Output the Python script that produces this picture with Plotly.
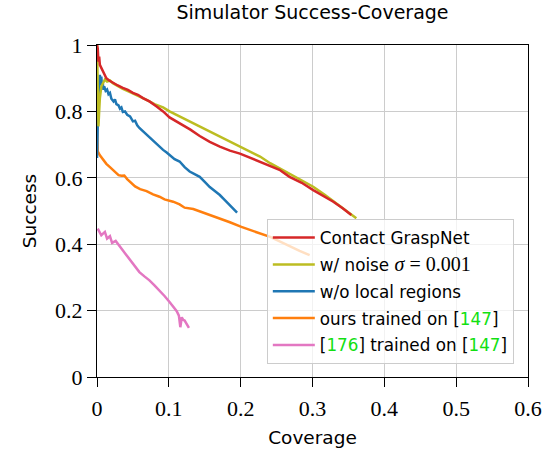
import plotly.graph_objects as go

# Success vs. coverage curves
red_x = [0, 0.001, 0.002, 0.003, 0.004, 0.006, 0.008, 0.010, 0.013, 0.017, 0.022, 0.029, 0.036,
         0.043, 0.050, 0.057, 0.064, 0.073, 0.083, 0.092, 0.101, 0.115, 0.130, 0.143, 0.157, 0.171,
         0.185, 0.199, 0.213, 0.227, 0.241, 0.254, 0.268, 0.285, 0.301, 0.315, 0.329, 0.342, 0.354]
red_y = [1.0, 0.99, 0.95, 0.965, 0.94, 0.93, 0.92, 0.915, 0.90, 0.893, 0.886, 0.878, 0.871,
         0.865, 0.856, 0.850, 0.840, 0.830, 0.815, 0.800, 0.782, 0.765, 0.745, 0.726, 0.708, 0.694,
         0.682, 0.673, 0.660, 0.649, 0.634, 0.624, 0.603, 0.585, 0.563, 0.546, 0.528, 0.508, 0.488]

olive_x = [0, 0.0005, 0.001, 0.0015, 0.002, 0.003, 0.004, 0.006, 0.008, 0.011, 0.014, 0.018, 0.022,
           0.029, 0.036, 0.046, 0.057, 0.069, 0.080, 0.092, 0.101, 0.115, 0.129, 0.143, 0.157, 0.171,
           0.185, 0.199, 0.213, 0.227, 0.241, 0.254, 0.268, 0.285, 0.301, 0.317, 0.333, 0.347, 0.361]
olive_y = [1.0, 0.93, 0.84, 0.76, 0.755, 0.80, 0.84, 0.875, 0.885, 0.896, 0.89, 0.893, 0.885,
           0.876, 0.868, 0.858, 0.848, 0.835, 0.822, 0.812, 0.800, 0.785, 0.770, 0.755, 0.740, 0.724,
           0.709, 0.694, 0.679, 0.664, 0.644, 0.629, 0.613, 0.594, 0.573, 0.549, 0.523, 0.500, 0.478]

blue_x = [0, 0.0005, 0.001, 0.002, 0.003, 0.004, 0.005, 0.006, 0.007, 0.008, 0.009, 0.010, 0.012,
          0.014, 0.016, 0.018, 0.020, 0.023, 0.025, 0.027, 0.030, 0.032, 0.034, 0.036, 0.039, 0.042,
          0.046, 0.050, 0.053, 0.056, 0.059, 0.064, 0.069, 0.073, 0.078, 0.083, 0.087, 0.092, 0.097,
          0.101, 0.108, 0.115, 0.122, 0.129, 0.136, 0.143, 0.150, 0.157, 0.164, 0.171, 0.178, 0.185,
          0.190, 0.195]
blue_y = [0.66, 0.72, 0.79, 0.85, 0.88, 0.91, 0.88, 0.905, 0.87, 0.886, 0.865, 0.875, 0.862,
          0.866, 0.852, 0.856, 0.838, 0.830, 0.836, 0.822, 0.818, 0.808, 0.812, 0.798, 0.800, 0.790,
          0.785, 0.770, 0.772, 0.758, 0.750, 0.740, 0.729, 0.719, 0.712, 0.700, 0.694, 0.684, 0.676,
          0.669, 0.656, 0.649, 0.632, 0.619, 0.611, 0.603, 0.588, 0.572, 0.560, 0.548, 0.533, 0.518,
          0.506, 0.495]

orange_x = [0, 0.001, 0.004, 0.008, 0.013, 0.018, 0.022, 0.027, 0.030, 0.034, 0.038, 0.042, 0.046,
            0.053, 0.060, 0.069, 0.078, 0.087, 0.094, 0.106, 0.115, 0.122, 0.134, 0.148, 0.162,
            0.171, 0.185, 0.201, 0.215, 0.227, 0.241, 0.255, 0.268, 0.282, 0.296]
orange_y = [0.76, 0.68, 0.668, 0.655, 0.642, 0.632, 0.624, 0.614, 0.608, 0.606, 0.607, 0.596, 0.587,
            0.574, 0.566, 0.560, 0.550, 0.543, 0.535, 0.528, 0.520, 0.510, 0.506, 0.495, 0.483,
            0.478, 0.466, 0.452, 0.442, 0.432, 0.422, 0.408, 0.394, 0.380, 0.367]

pink_x = [0.001, 0.006, 0.011, 0.014, 0.018, 0.021, 0.026, 0.030, 0.034, 0.040, 0.046, 0.053,
          0.059, 0.066, 0.073, 0.080, 0.087, 0.094, 0.101, 0.106, 0.111, 0.114, 0.116, 0.118,
          0.120, 0.122, 0.125, 0.128]
pink_y = [0.447, 0.427, 0.437, 0.417, 0.424, 0.404, 0.410, 0.400, 0.387, 0.370, 0.352, 0.334,
          0.316, 0.303, 0.291, 0.276, 0.261, 0.244, 0.226, 0.213, 0.198, 0.185, 0.150, 0.180,
          0.172, 0.170, 0.160, 0.148]

CITE = "#12e012"
MATH = "font-family:'Liberation Serif';font-size:20px;"
series_names = [
    "Contact GraspNet",
    f"w/ noise <span style=\"{MATH}font-style:italic\">σ</span><span style=\"{MATH}\"> = 0.001</span>",
    "w/o local regions",
    f"ours trained on [<span style=\"color:{CITE}\">147</span>]",
    f"[<span style=\"color:{CITE}\">176</span>] trained on [<span style=\"color:{CITE}\">147</span>]",
]
series_colors = ["#d62728", "#bcbd22", "#1f77b4", "#ff7f0e", "#e377c2"]
series_xs = [red_x, olive_x, blue_x, orange_x, pink_x]
series_ys = [red_y, olive_y, blue_y, orange_y, pink_y]

x_ticks = [0, 0.1, 0.2, 0.3, 0.4, 0.5, 0.6]
x_tick_text = ["0", "0.1", "0.2", "0.3", "0.4", "0.5", "0.6"]
y_ticks = [0, 0.2, 0.4, 0.6, 0.8, 1.0]
y_tick_text = ["0", "0.2", "0.4", "0.6", "0.8", "1"]

SANS = "DejaVu Sans"
SERIF = "Liberation Serif"

fig = go.Figure()
# draw the lower curves first so the upper ones sit on top, but keep legend order
draw_order = [4, 3, 2, 1, 0]
for i in draw_order:
    fig.add_trace(go.Scatter(
        x=series_xs[i], y=series_ys[i], mode="lines", name=series_names[i],
        line=dict(color=series_colors[i], width=2.5),
        legendgroup=f"g{i}", legendrank=i + 1,
    ))

axis_common = dict(
    showline=True, linecolor="black", linewidth=1, mirror=True,
    ticks="outside", ticklen=9, tickcolor="black", tickwidth=1,
    showgrid=True, gridcolor="#cccccc", gridwidth=1.3, zeroline=False,
    tickfont=dict(family=SERIF, size=22, color="black"),
    automargin=False,
)

fig.update_layout(
    width=544, height=459,
    margin=dict(l=97, r=16, t=45, b=82),
    paper_bgcolor="white", plot_bgcolor="white",
    title=dict(text="Simulator Success-Coverage", x=0.5, xref="paper",
               y=1 - 12 / 459, yref="container", yanchor="middle",
               font=dict(family=SANS, size=19, color="black")),
    xaxis=dict(range=[0, 0.6], tickvals=x_ticks, ticktext=x_tick_text, ticklabelstandoff=3,
               title=dict(text="Coverage", font=dict(family=SANS, size=18.5, color="black"), standoff=10),
               **axis_common),
    yaxis=dict(range=[0, 1], tickvals=y_ticks, ticktext=y_tick_text,
               title=dict(text="Success", font=dict(family=SANS, size=18.5, color="black"), standoff=13),
               **axis_common),
    legend=dict(x=0.394, y=0.4755, xanchor="left", yanchor="top",
                bgcolor="rgba(255,255,255,0.75)", bordercolor="#cccccc", borderwidth=1,
                font=dict(family=SANS, size=16.8, color="black"),
                tracegroupgap=2, itemwidth=42),
    showlegend=True,
)

fig.write_html("out.html")
